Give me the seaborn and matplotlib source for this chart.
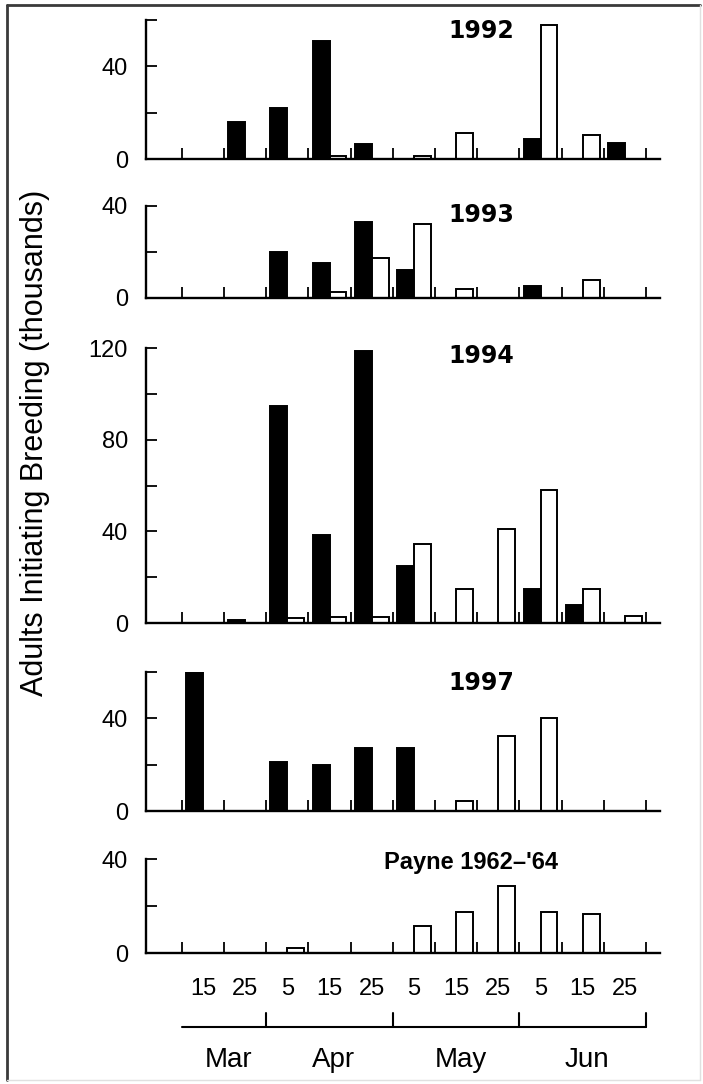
import numpy as np
import pandas as pd
import seaborn as sns
import matplotlib
matplotlib.use("Agg")
import matplotlib.pyplot as plt
from matplotlib.lines import Line2D
from matplotlib.transforms import blended_transform_factory

# Ten-day periods, March to June
periods = ["Mar 15", "Mar 25", "Apr 5", "Apr 15", "Apr 25",
           "May 5", "May 15", "May 25", "Jun 5", "Jun 15", "Jun 25"]
day_labels = ["15", "25", "5", "15", "25", "5", "15", "25", "5", "15", "25"]
months = ["Mar", "Apr", "May", "Jun"]
month_bounds = [-0.5, 1.5, 4.5, 7.5, 10.5]

# Adults initiating breeding (thousands); filled = first series, open = second
filled_1992 = [0, 16, 22, 51, 6.5, 0, 0, 0, 8.5, 0, 7]
open_1992 = [0, 0, 0, 1.5, 0, 1.5, 11.3, 0, 58, 10.3, 0]

filled_1993 = [0, 0, 20, 15, 33, 12, 0, 0, 5.3, 0, 0]
open_1993 = [0, 0, 0, 2.5, 17.3, 32, 4, 0, 0, 8, 0]

filled_1994 = [0, 1.5, 94.5, 38.5, 118.5, 25, 0, 0, 15, 8, 0]
open_1994 = [0, 0, 2, 2.5, 2.5, 34.5, 15, 41, 58, 15, 3]

filled_1997 = [60, 0, 21, 20, 27, 27, 0, 0, 0, 0, 0]
open_1997 = [0, 0, 0, 0, 0, 0, 4.5, 32.5, 40, 0, 0]

filled_payne = [0, 0, 0, 0, 0, 0, 0, 0, 0, 0, 0]
open_payne = [0, 0, 2, 0, 0, 11.5, 17.5, 28.5, 17.5, 16.5, 0]

titles = ["1992", "1993", "1994", "1997", "Payne 1962\u2013'64"]
ymax = [60, 40, 120, 60, 40]
series = [(filled_1992, open_1992), (filled_1993, open_1993),
          (filled_1994, open_1994), (filled_1997, open_1997),
          (filled_payne, open_payne)]

sns.set_style("white")
plt.rcParams["font.family"] = ["Liberation Sans", "DejaVu Sans"]
for key in ("text.color", "axes.labelcolor", "xtick.color", "ytick.color", "axes.edgecolor"):
    plt.rcParams[key] = "black"

W, H = 703, 1084
fig = plt.figure(figsize=(W / 100, H / 100), dpi=100)

# panel extents in pixels: (top, baseline)
panel_px = [(20, 159), (206, 298), (348, 623), (672, 811), (859, 953)]
ax_left, ax_right = 146, 660
title_pos = [(481, 31), (481, 215), (481, 356), (481, 683), (471, 863)]

axes = []
for i, ((top, base), (f, o)) in enumerate(zip(panel_px, series)):
    ax = fig.add_axes([ax_left / W, 1 - base / H, (ax_right - ax_left) / W, (base - top) / H])
    df = pd.DataFrame({
        "period": periods * 2,
        "adults": list(f) + list(o),
        "group": ["filled"] * len(periods) + ["open"] * len(periods),
    })
    sns.barplot(data=df, x="period", y="adults", hue="group", order=periods,
                hue_order=["filled", "open"],
                palette={"filled": "black", "open": "white"},
                edgecolor="black", linewidth=1.4, width=0.8, legend=False, ax=ax)
    ax.set_xlim(-1.35, 10.83)
    ax.set_ylim(0, ymax[i])
    ax.set_xlabel("")
    ax.set_ylabel("")
    ax.patch.set_alpha(0)
    for s in ("top", "right"):
        ax.spines[s].set_visible(False)
    for s in ("left", "bottom"):
        ax.spines[s].set_linewidth(1.7)
        ax.spines[s].set_color("black")
    # period boundaries as inward ticks
    ax.set_xticks(np.arange(-0.5, 11, 1.0))
    ax.set_xticklabels([])
    ax.tick_params(axis="x", which="major", direction="in", length=8, width=1.3,
                   color="black", bottom=True)
    yt = np.arange(0, ymax[i] + 1, 20)
    ax.set_yticks(yt)
    ax.set_yticklabels([str(int(v)) if v % 40 == 0 else "" for v in yt])
    ax.tick_params(axis="y", direction="in", length=8, width=1.3, color="black",
                   pad=13, labelsize=17, left=True)
    tx, ty = title_pos[i]
    fam = ["Liberation Sans"] if i == len(titles) - 1 else ["DejaVu Sans"]
    fig.text(tx / W, 1 - ty / H, titles[i], fontsize=17, fontweight="bold",
             family=fam, ha="center", va="center")
    axes.append(ax)

# day labels under the last panel
bottom_ax = axes[-1]
bottom_ax.set_xticks(np.arange(len(periods)), day_labels, minor=True)
bottom_ax.tick_params(axis="x", which="minor", length=0, pad=18, labelsize=17)

# month bar with boundary ticks
tr = blended_transform_factory(bottom_ax.transData, fig.transFigure)
line_y = 1 - 1027 / H
tick_top = 1 - 1013 / H
bottom_ax.add_line(Line2D([month_bounds[0], month_bounds[-1]], [line_y, line_y],
                          transform=tr, color="black", lw=1.5, clip_on=False))
for b in month_bounds[1:]:
    bottom_ax.add_line(Line2D([b, b], [line_y, tick_top], transform=tr,
                              color="black", lw=1.5, clip_on=False))
for m, a, b in zip(months, month_bounds[:-1], month_bounds[1:]):
    bottom_ax.text((a + b) / 2 + 0.1, 1 - 1060 / H, m, transform=tr, fontsize=20,
                   ha="center", va="center")

# shared y label
fig.text(35 / W, 1 - 443 / H, "Adults Initiating Breeding (thousands)",
         rotation=90, fontsize=22, ha="center", va="center")

# frame around the figure
fig.add_artist(Line2D([7 / W, 700 / W], [1 - 5 / H, 1 - 5 / H], color="#3a3a3a", lw=2))
fig.add_artist(Line2D([7 / W, 7 / W], [1 - 5 / H, 1 - 1080 / H], color="#3a3a3a", lw=2))
fig.add_artist(Line2D([700 / W, 700 / W], [1 - 5 / H, 1 - 1080 / H], color="#e0e0e0", lw=1))
fig.add_artist(Line2D([7 / W, 700 / W], [1 - 1080 / H, 1 - 1080 / H], color="#e0e0e0", lw=1))

fig.savefig("out.png", dpi=100)
